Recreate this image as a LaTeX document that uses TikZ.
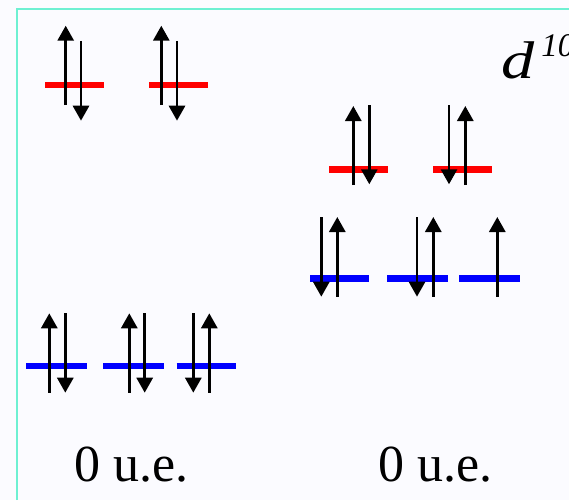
\documentclass[tikz,border=0pt]{standalone}
\usepackage{fontspec}
\setmainfont{Liberation Serif}
\usetikzlibrary{arrows.meta}
\definecolor{bgcol}{RGB}{251,251,255}
\definecolor{framecol}{RGB}{110,240,210}
\begin{document}
\begin{tikzpicture}[x=1pt,y=-1pt,
  spin/.style={line width=2.9pt,-{Triangle[width=16pt,length=15pt]}},
  eglevel/.style={red,line width=6.5pt},
  tlevel/.style={blue,line width=6.5pt},
  lbl/.style={inner sep=0pt,font=\fontsize{52}{56}\selectfont}]
\useasboundingbox[fill=bgcol] (0,0) rectangle (569,500);
\coordinate (fb) at (17,500);
\coordinate (fc) at (17,9);
\coordinate (fr) at (569,9);
\draw[framecol,line width=2pt] (fb) -- (fc) -- (fr);
% left configuration: e_g levels
\draw[eglevel] (45,85) -- (104,85);
\draw[eglevel] (149,85) -- (208,85);
\draw[spin] (65.7,105) -- (65.7,25.7);
\draw[spin] (81,41) -- (81,120.7);
\draw[spin] (161.3,105) -- (161.3,25.7);
\draw[spin] (177,41) -- (177,120.7);
% left configuration: t2g levels
\draw[tlevel] (26,366) -- (87,366);
\draw[tlevel] (103,366) -- (164,366);
\draw[tlevel] (176.7,366) -- (236,366);
\draw[spin] (49.3,392.7) -- (49.3,313.3);
\draw[spin] (65.3,313.3) -- (65.3,392.7);
\draw[spin] (129.3,392.7) -- (129.3,313.3);
\draw[spin] (144.7,313.3) -- (144.7,392.7);
\draw[spin] (193.3,313.3) -- (193.3,392.7);
\draw[spin] (209.3,392.7) -- (209.3,313.3);
% right configuration: e_g levels
\draw[eglevel] (329,169.3) -- (388,169.3);
\draw[eglevel] (433,169.3) -- (492,169.3);
\draw[spin] (353.3,185) -- (353.3,106);
\draw[spin] (369.3,105.3) -- (369.3,184.3);
\draw[spin] (449,105.3) -- (449,184.3);
\draw[spin] (465.3,185) -- (465.3,106);
% right configuration: t2g levels
\draw[tlevel] (310,278.3) -- (369,278.3);
\draw[tlevel] (387,278.3) -- (448,278.3);
\draw[tlevel] (459,278.3) -- (520,278.3);
\draw[spin] (321.3,217) -- (321.3,296.7);
\draw[spin] (337.3,296.7) -- (337.3,217);
\draw[spin] (417,217) -- (417,296.7);
\draw[spin] (433.3,296.7) -- (433.3,217);
\draw[spin] (497.3,296.7) -- (497.3,217);
% labels
\node[lbl,anchor=base west] (d10) at (501,79) {\fontsize{53}{56}\selectfont\itshape\scalebox{1.25}[1]{d}\kern7pt\raisebox{22pt}{\fontsize{33}{35}\selectfont 10}};
\node[lbl,anchor=base west] (ue1) at (73.8,481) {0 u.e.};
\node[lbl,anchor=base west] (ue2) at (377.8,481) {0 u.e.};
\end{tikzpicture}
\end{document}
